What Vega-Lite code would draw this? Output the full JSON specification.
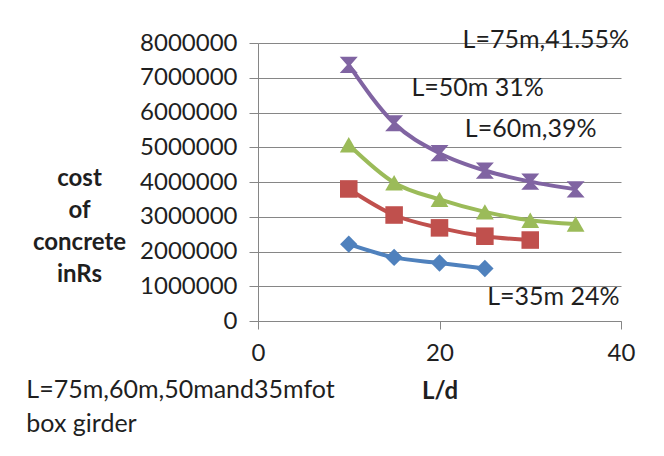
{
  "$schema": "https://vega.github.io/schema/vega-lite/v6.json",
  "width": 363,
  "height": 278,
  "autosize": {"type": "none"},
  "padding": {"left": 258, "top": 43, "right": 43, "bottom": 135},
  "background": "white",
  "config": {
    "view": {"stroke": null},
    "font": "Lato",
    "text": {"font": "Lato"}
  },
  "datasets": {
    "series": [
      {"span": "L=35m", "ld": 10, "cost": 2210000},
      {"span": "L=35m", "ld": 15, "cost": 1830000},
      {"span": "L=35m", "ld": 20, "cost": 1670000},
      {"span": "L=35m", "ld": 25, "cost": 1510000},
      {"span": "L=50m", "ld": 10, "cost": 3800000},
      {"span": "L=50m", "ld": 15, "cost": 3050000},
      {"span": "L=50m", "ld": 20, "cost": 2680000},
      {"span": "L=50m", "ld": 25, "cost": 2440000},
      {"span": "L=50m", "ld": 30, "cost": 2330000},
      {"span": "L=60m", "ld": 10, "cost": 5070000},
      {"span": "L=60m", "ld": 15, "cost": 3980000},
      {"span": "L=60m", "ld": 20, "cost": 3500000},
      {"span": "L=60m", "ld": 25, "cost": 3140000},
      {"span": "L=60m", "ld": 30, "cost": 2900000},
      {"span": "L=60m", "ld": 35, "cost": 2790000},
      {"span": "L=75m", "ld": 10, "cost": 7370000},
      {"span": "L=75m", "ld": 15, "cost": 5690000},
      {"span": "L=75m", "ld": 20, "cost": 4830000},
      {"span": "L=75m", "ld": 25, "cost": 4330000},
      {"span": "L=75m", "ld": 30, "cost": 4010000},
      {"span": "L=75m", "ld": 35, "cost": 3790000}
    ],
    "notes": [
      {"label": "L=75m,41.55%", "x": 22.54, "y": 7855000},
      {"label": "L=50m 31%", "x": 16.91, "y": 6480000},
      {"label": "L=60m,39%", "x": 22.79, "y": 5306000},
      {"label": "L=35m 24%", "x": 25.25, "y": 453000},
      {"label": "L=75m,60m,50mand35mfot", "x": -25.53, "y": -2229000},
      {"label": "box girder", "x": -25.53, "y": -3195000}
    ]
  },
  "layer": [
    {
      "data": {"name": "series"},
      "mark": {"type": "line", "strokeWidth": 4, "strokeJoin": "round", "interpolate": "monotone"},
      "encoding": {
        "x": {
          "field": "ld", "type": "quantitative",
          "scale": {"domain": [0, 40], "nice": false, "zero": false},
          "axis": {
            "values": [0, 20, 40],
            "tickCount": 3,
            "grid": false,
            "domainColor": "#868686",
            "tickColor": "#868686",
            "tickSize": 8,
            "labelFontSize": 24,
            "labelColor": "#1f1f1f",
            "labelPadding": 12,
            "labelFlush": false,
            "title": "L/d",
            "titleFontSize": 24,
            "titleFontWeight": "bold",
            "titleColor": "#1f1f1f",
            "titlePadding": 14
          }
        },
        "y": {
          "field": "cost", "type": "quantitative",
          "scale": {"domain": [0, 8000000], "nice": false},
          "axis": {
            "values": [0, 1000000, 2000000, 3000000, 4000000, 5000000, 6000000, 7000000, 8000000],
            "tickCount": 9,
            "format": "d",
            "grid": true,
            "gridColor": "#868686",
            "domainColor": "#868686",
            "tickColor": "#868686",
            "tickSize": 9,
            "labelFontSize": 24,
            "labelColor": "#1f1f1f",
            "labelPadding": 12,
            "labelOverlap": false,
            "labelFlush": false,
            "title": ["cost", "of", "concrete", "inRs"],
            "titleAngle": 0,
            "titleAlign": "center",
            "titleBaseline": "alphabetic",
            "titleX": -179,
            "titleY": 142,
            "titleLineHeight": 32,
            "titleFontSize": 24,
            "titleFontWeight": "bold",
            "titleColor": "#1f1f1f"
          }
        },
        "color": {
          "field": "span", "type": "nominal",
          "scale": {"domain": ["L=35m", "L=50m", "L=60m", "L=75m"], "range": ["#4F81BD", "#C0504D", "#9BBB59", "#8064A2"]},
          "legend": null
        }
      }
    },
    {
      "data": {"name": "series"},
      "mark": {"type": "point", "filled": true, "opacity": 1},
      "encoding": {
        "x": {"field": "ld", "type": "quantitative"},
        "y": {"field": "cost", "type": "quantitative"},
        "color": {"field": "span", "type": "nominal", "legend": null},
        "shape": {
          "field": "span", "type": "nominal",
          "scale": {"domain": ["L=35m", "L=50m", "L=60m", "L=75m"], "range": ["diamond", "square", "triangle-up", "M-1,-0.9L1,-0.9L0.2,0L1,0.9L-1,0.9L-0.2,0Z"]},
          "legend": null
        },
        "size": {
          "field": "span", "type": "nominal",
          "scale": {"domain": ["L=35m", "L=50m", "L=60m", "L=75m"], "range": [300, 324, 400, 380]},
          "legend": null
        }
      }
    },
    {
      "data": {"name": "notes"},
      "mark": {"type": "text", "align": "left", "baseline": "alphabetic", "fontSize": 25, "color": "#1f1f1f", "font": "Lato"},
      "encoding": {
        "x": {"field": "x", "type": "quantitative"},
        "y": {"field": "y", "type": "quantitative"},
        "text": {"field": "label", "type": "nominal"}
      }
    }
  ]
}
